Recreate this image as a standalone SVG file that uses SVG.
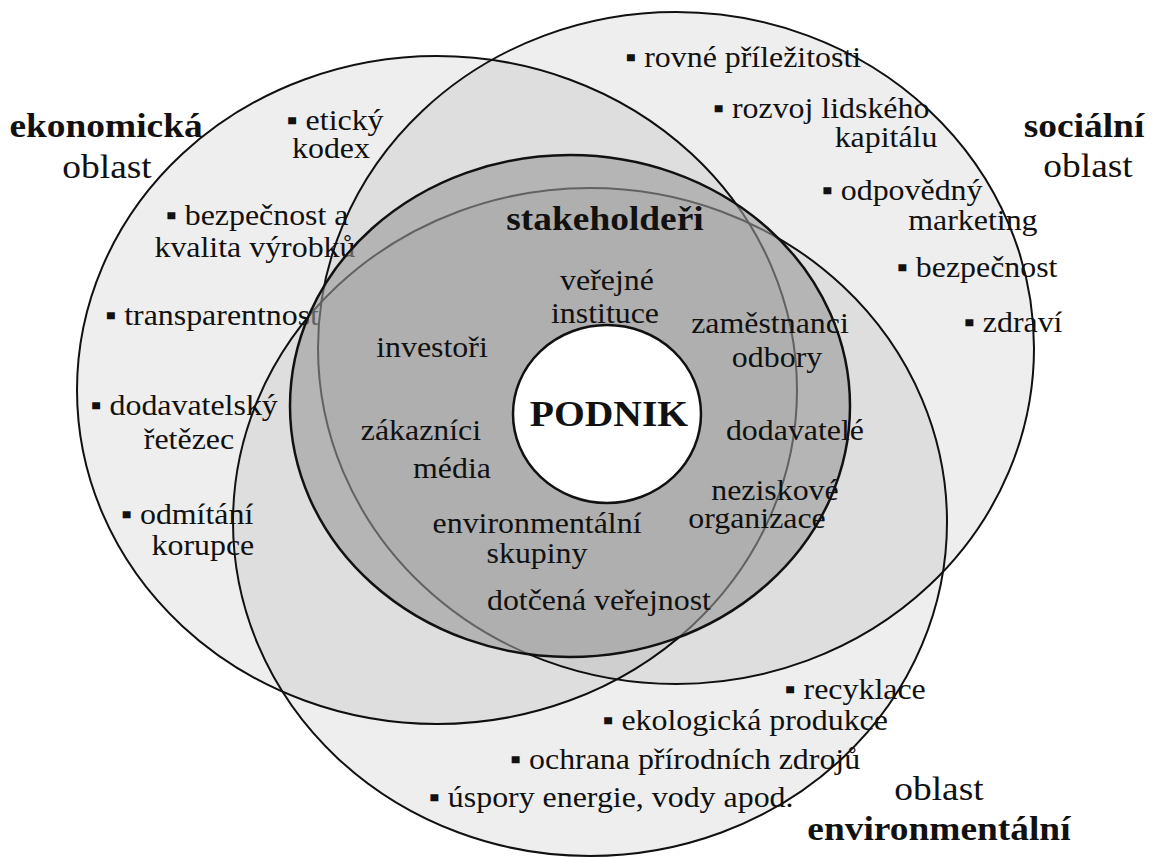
<svg xmlns="http://www.w3.org/2000/svg" width="1152" height="857" viewBox="0 0 1152 857">
<style>
.area{fill:#000;fill-opacity:0.065;stroke:#111;stroke-width:2}
.stake{fill:#999;fill-opacity:0.6;stroke:#111;stroke-width:2.5}
.core{fill:#fff;stroke:#111;stroke-width:2.5}
text{font-family:"Liberation Serif","Times New Roman","DejaVu Serif",serif;fill:#111;text-anchor:middle}
.t{font-size:29px}
.h{font-size:34px}
.p{font-size:36px}
.b{font-weight:bold}
</style>
<rect width="1152" height="857" fill="#fff"/>
<g id="economic">
<ellipse class="area" cx="437" cy="390" rx="360" ry="334"/>
<g transform="scale(1.1 1)">
<text class="h b" x="96.4" y="137">ekonomická</text>
<text class="h" x="97.3" y="178">oblast</text>
<text class="t" x="304.5" y="130">▪ etický</text>
<text class="t" x="300.9" y="158">kodex</text>
<text class="t" x="233.6" y="225">▪ bezpečnost a</text>
<text class="t" x="231.8" y="257">kvalita výrobků</text>
<text class="t" x="192.7" y="325">▪ transparentnost</text>
<text class="t" x="167.3" y="415">▪ dodavatelský</text>
<text class="t" x="171.8" y="449">řetězec</text>
<text class="t" x="170" y="524">▪ odmítání</text>
<text class="t" x="184.5" y="555">korupce</text>
</g>
</g>
<g id="social">
<ellipse class="area" cx="676" cy="348" rx="358" ry="336"/>
<g transform="scale(1.1 1)">
<text class="h b" x="985.5" y="137">sociální</text>
<text class="h" x="989.1" y="177">oblast</text>
<text class="t" x="675.5" y="67">▪ rovné příležitosti</text>
<text class="t" x="746.4" y="118">▪ rozvoj lidského</text>
<text class="t" x="805.5" y="147">kapitálu</text>
<text class="t" x="820" y="200">▪ odpovědný</text>
<text class="t" x="884.5" y="230">marketing</text>
<text class="t" x="888.2" y="277">▪ bezpečnost</text>
<text class="t" x="920.9" y="332">▪ zdraví</text>
</g>
</g>
<g id="environmental">
<ellipse class="area" cx="590" cy="522" rx="357" ry="334"/>
<g transform="scale(1.1 1)">
<text class="t" x="777.3" y="699">▪ recyklace</text>
<text class="t" x="677.3" y="730">▪ ekologická produkce</text>
<text class="t" x="622.7" y="769">▪ ochrana přírodních zdrojů</text>
<text class="t" x="555.5" y="807">▪ úspory energie, vody apod.</text>
<text class="h" x="853.6" y="800">oblast</text>
<text class="h b" x="853.6" y="840">environmentální</text>
</g>
</g>
<g id="stakeholders">
<ellipse class="stake" cx="570" cy="406" rx="280" ry="251"/>
<g transform="scale(1.1 1)">
<text class="h b" x="550" y="230">stakeholdeři</text>
<text class="t" x="551.8" y="290">veřejné</text>
<text class="t" x="550" y="323">instituce</text>
<text class="t" x="392.7" y="357">investoři</text>
<text class="t" x="700" y="333">zaměstnanci</text>
<text class="t" x="706.4" y="367">odbory</text>
<text class="t" x="382.7" y="440">zákazníci</text>
<text class="t" x="722.7" y="440">dodavatelé</text>
<text class="t" x="410.9" y="478">média</text>
<text class="t" x="704.5" y="500">neziskové</text>
<text class="t" x="688.2" y="528">organizace</text>
<text class="t" x="488.2" y="533">environmentální</text>
<text class="t" x="488.2" y="563">skupiny</text>
<text class="t" x="544.5" y="610">dotčená veřejnost</text>
</g>
</g>
<g id="podnik">
<ellipse class="core" cx="607" cy="414" rx="94" ry="89"/>
<g transform="scale(1.1 1)">
<text class="p b" x="553.6" y="426">PODNIK</text>
</g>
</g>
</svg>
